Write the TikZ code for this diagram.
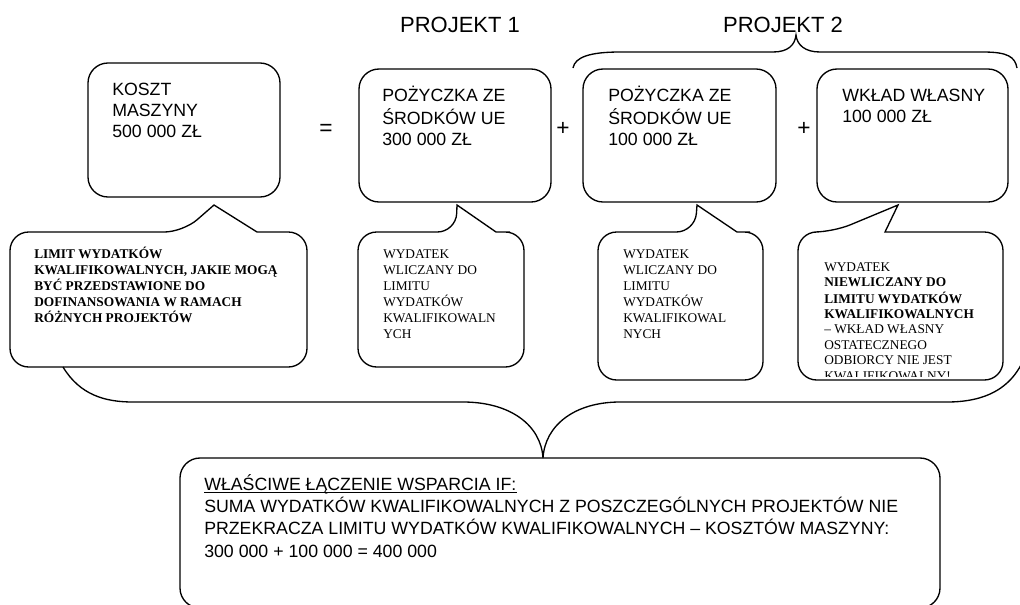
\documentclass[tikz,border=0pt]{standalone}
\usepackage{fontspec}
\setmainfont{Liberation Sans}
\newfontfamily\tnr{Liberation Serif}
\usetikzlibrary{fit}
\newcommand{\boxlines}[1]{\begin{tabular}[t]{@{}l@{}}#1\end{tabular}}
\tikzset{
  box/.style={draw,line width=1pt,rounded corners=15pt,inner sep=0pt},
  bubble/.style={draw,line width=1pt,rounded corners=14pt},
  brace/.style={draw,line width=1pt},
  boxtext/.style={anchor=base west,inner sep=0pt,font=\fontsize{13.3}{15.75}\selectfont},
  notetext/.style={anchor=base west,inner sep=0pt,font=\tnr\fontsize{10}{12}\selectfont},
  sign/.style={inner sep=0pt,font=\fontsize{17}{19}\selectfont},
  title/.style={anchor=base,inner sep=0pt,font=\fontsize{16.5}{19}\selectfont}
}
\begin{document}
\begin{tikzpicture}[x=0.75pt,y=-0.75pt]
    \useasboundingbox (0,0) rectangle (1020,604);
    \clip (0,0) rectangle (1020,604);
    \node[title] (p1) at (460,32) {PROJEKT 1};
    \node[title] (p2) at (783,32) {PROJEKT 2};
    \draw[brace] (573,68) .. controls (575,57) and (590,52) .. (620,52) -- (773,52) .. controls (788,52) and (795,45) .. (796,35) .. controls (797,45) and (805,52) .. (820,52) -- (983,52) .. controls (1008,52) and (1015,57) .. (1017,68);

    \node[box,fit={(88,63) (280,197)}] (koszt) {};
    \node[boxtext] (kosztT) at (112,95) {\boxlines{KOSZT\\MASZYNY\\500 000 ZŁ}};
    \node[box,fit={(359,69) (551,202)}] (pozyczka1) {};
    \node[boxtext] (pozyczka1T) at (382,101.8) {\boxlines{POŻYCZKA ZE\\ŚRODKÓW UE\\300 000 ZŁ}};
    \node[box,fit={(583,69) (776,202)}] (pozyczka2) {};
    \node[boxtext] (pozyczka2T) at (608,101.8) {\boxlines{POŻYCZKA ZE\\ŚRODKÓW UE\\100 000 ZŁ}};
    \node[box,fit={(817,69) (1008,202)}] (wklad) {};
    \node[boxtext] (wkladT) at (842,101.8) {\boxlines{WKŁAD WŁASNY\\100 000 ZŁ}};
    \node[sign] (eq) at (326,130) {=};
    \node[sign] (plus1) at (563,129) {+};
    \node[sign] (plus2) at (804,129) {+};

    \draw[bubble] (280,232) -- (307,232) -- (307,367) -- (10,367) -- (10,232) -- (183,232) [sharp corners] -- (214,205) -- (257,232) -- cycle;
    \node[notetext,font=\tnr\bfseries\fontsize{10}{12}\selectfont] (limitT) at (34,258) {\boxlines{LIMIT WYDATKÓW\\KWALIFIKOWALNYCH, JAKIE MOGĄ\\BYĆ PRZEDSTAWIONE DO\\DOFINANSOWANIA W RAMACH\\RÓŻNYCH PROJEKTÓW}};
    \draw[bubble] (510,232) -- (524,232) -- (524,367) -- (358,367) -- (358,232) -- (456,232) [sharp corners] -- (457,205) -- (496,232) -- cycle;
    \node[notetext] (wliczany1T) at (383,258) {\boxlines{WYDATEK\\WLICZANY DO\\LIMITU\\WYDATKÓW\\KWALIFIKOWALN\\YCH}};
    \draw[bubble] (750,232) -- (763,232) -- (763,380) -- (598,380) -- (598,232) -- (695,232) [sharp corners] -- (697,205) -- (737,232) -- cycle;
    \node[notetext] (wliczany2T) at (623,258) {\boxlines{WYDATEK\\WLICZANY DO\\LIMITU\\WYDATKÓW\\KWALIFIKOWAL\\NYCH}};
    \draw[bubble] (950,232) -- (1003,232) -- (1003,380) -- (798,380) -- (798,232) -- (833,232) [sharp corners] -- (898,205) -- (885,232) -- cycle;
    \begin{scope}
        \clip (798,232) rectangle (1003,376);
        \node[notetext,font=\tnr\fontsize{10}{11.6}\selectfont] (niewliczanyT) at (824,271.5) {\boxlines{WYDATEK\\\textbf{NIEWLICZANY DO}\\\textbf{LIMITU WYDATKÓW}\\\textbf{KWALIFIKOWALNYCH}\\– WKŁAD WŁASNY\\OSTATECZNEGO\\ODBIORCY NIE JEST\\KWALIFIKOWALNY!}};
    \end{scope}

    \draw[brace] (63,367) .. controls (80,395) and (105,402) .. (133,402) -- (463,402) .. controls (510,402) and (541,425) .. (543,458) .. controls (545,425) and (575,402) .. (620,402) -- (947,402) .. controls (990,402) and (1020,385) .. (1030,340);

    \node[box,fit={(180,458) (940,608)}] (wsparcie) {};
    \node[boxtext] (wsparcieT) at (204,490.4) {WŁAŚCIWE ŁĄCZENIE WSPARCIA IF:};
    \draw[line width=0.6pt] ([yshift=-1.8pt]wsparcieT.base west) -- ([yshift=-1.8pt]wsparcieT.base east);
    \node[boxtext,font=\fontsize{13.3}{16.7}\selectfont] (sumaT) at (204,512.7) {\boxlines{SUMA WYDATKÓW KWALIFIKOWALNYCH Z POSZCZEGÓLNYCH PROJEKTÓW NIE\\PRZEKRACZA LIMITU WYDATKÓW KWALIFIKOWALNYCH – KOSZTÓW MASZYNY:\\300 000 + 100 000 = 400 000}};
\end{tikzpicture}
\end{document}
